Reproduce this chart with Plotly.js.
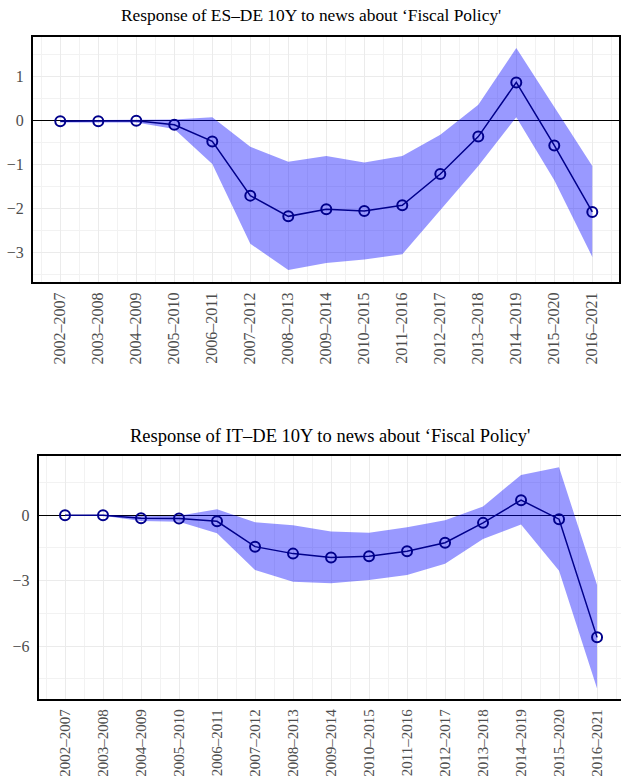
<!DOCTYPE html>
<html>
<head>
<meta charset="utf-8">
<script src="https://cdn.plot.ly/plotly-3.0.1.min.js"></script>
<style>
  html, body { margin: 0; padding: 0; background: #ffffff; }
  #chart { width: 621px; height: 782px; }
</style>
</head>
<body>
<div id="chart"></div>
<script>
// Rolling five-year windows
const periods = ['2002–2007', '2003–2008', '2004–2009', '2005–2010', '2006–2011',
  '2007–2012', '2008–2013', '2009–2014', '2010–2015', '2011–2016',
  '2012–2017', '2013–2018', '2014–2019', '2015–2020', '2016–2021'];

// ES–DE 10Y spread response: point estimate and band
const esEstimate = [-0.02, -0.02, -0.01, -0.10, -0.48, -1.71, -2.18, -2.02, -2.06, -1.93, -1.22, -0.37, 0.86, -0.57, -2.08];
const esUpper    = [0.00, 0.01, 0.01, 0.02, 0.07, -0.60, -0.94, -0.81, -0.96, -0.81, -0.33, 0.35, 1.64, 0.31, -1.04];
const esLower    = [-0.05, -0.05, -0.05, -0.20, -0.99, -2.80, -3.40, -3.24, -3.16, -3.04, -2.04, -1.04, 0.07, -1.36, -3.10];

// IT–DE 10Y spread response: point estimate and band
const itEstimate = [0.00, 0.00, -0.14, -0.15, -0.28, -1.44, -1.76, -1.94, -1.88, -1.65, -1.26, -0.35, 0.69, -0.18, -5.60];
const itUpper    = [0.00, 0.02, -0.05, -0.02, 0.27, -0.32, -0.46, -0.75, -0.80, -0.55, -0.23, 0.40, 1.85, 2.20, -3.20];
const itLower    = [0.00, -0.02, -0.26, -0.30, -0.83, -2.51, -3.05, -3.12, -2.97, -2.74, -2.23, -1.09, -0.43, -2.54, -7.94];

const titles = ['Response of ES–DE 10Y to news about ‘Fiscal Policy\'',
                'Response of IT–DE 10Y to news about ‘Fiscal Policy\''];

const idx = periods.map((_, i) => i);
const W = 621, H = 782;
const px = v => v / W;
const py = v => 1 - v / H;

const bandColor = 'rgba(0,0,255,0.4)';
const lineColor = '#00008b';
const serif = '"Liberation Serif", "Times New Roman", serif';

function panel(est, up, lo, xa, ya) {
  return [
    { x: idx, y: lo, xaxis: xa, yaxis: ya, type: 'scatter', mode: 'lines',
      line: { width: 0, color: bandColor }, hoverinfo: 'skip', showlegend: false },
    { x: idx, y: up, xaxis: xa, yaxis: ya, type: 'scatter', mode: 'lines',
      fill: 'tonexty', fillcolor: bandColor,
      line: { width: 0, color: bandColor }, hoverinfo: 'skip', showlegend: false },
    { x: idx, y: est, xaxis: xa, yaxis: ya, type: 'scatter', mode: 'lines+markers',
      line: { color: lineColor, width: 1.5 },
      marker: { symbol: 'circle-open', size: 10, color: lineColor, line: { width: 2, color: lineColor } },
      showlegend: false }
  ];
}

const data = [].concat(
  panel(esEstimate, esUpper, esLower, 'x', 'y'),
  panel(itEstimate, itUpper, itLower, 'x2', 'y2')
);

function xAxis(domain, range, anchor, fontSize) {
  return {
    domain: domain, range: range, anchor: anchor,
    tickmode: 'array', tickvals: idx, ticktext: periods, tickangle: -90,
    ticks: '', ticklabelstandoff: 2,
    tickfont: { family: serif, size: fontSize, color: '#4d4d4d' },
    showgrid: true, gridcolor: '#ebebeb', gridwidth: 1,
    minor: { tickmode: 'linear', tick0: -0.5, dtick: 1, showgrid: true, gridcolor: '#f2f2f2', gridwidth: 1 },
    zeroline: false,
    showline: true, linecolor: '#000000', linewidth: 2, mirror: true,
    fixedrange: true
  };
}

function yAxis(domain, range, dtick, anchor, mirror) {
  return {
    domain: domain, range: range, anchor: anchor,
    tickmode: 'linear', tick0: 0, dtick: dtick,
    ticks: '', ticklabelstandoff: 4,
    tickfont: { family: serif, size: 16, color: '#4d4d4d' },
    showgrid: true, gridcolor: '#ebebeb', gridwidth: 1,
    minor: { tickmode: 'linear', tick0: dtick / 2, dtick: dtick, showgrid: true, gridcolor: '#f2f2f2', gridwidth: 1 },
    zeroline: true, zerolinecolor: '#000000', zerolinewidth: 1,
    showline: true, linecolor: '#000000', linewidth: 2, mirror: mirror,
    fixedrange: true
  };
}

const layout = {
  width: W, height: H,
  margin: { l: 0, r: 0, t: 0, b: 0 },
  paper_bgcolor: '#ffffff', plot_bgcolor: '#ffffff',
  showlegend: false,
  xaxis: xAxis([px(33), px(618.7)], [-0.718, 14.695], 'y', 16),
  yaxis: yAxis([py(282), py(37)], [-3.67, 1.89], 1, 'x', true),
  xaxis2: xAxis([px(38.7), 1], [-0.692, 14.63], 'y2', 15),
  yaxis2: yAxis([py(699.3), py(455.7)], [-8.44, 2.73], 3, 'x2', false),
  annotations: [
    { text: titles[0], xref: 'paper', yref: 'paper', x: px(311), y: py(15),
      xanchor: 'center', yanchor: 'middle', showarrow: false,
      font: { family: serif, size: 17.4, color: '#000000' } },
    { text: titles[1], xref: 'paper', yref: 'paper', x: px(330), y: py(436),
      xanchor: 'center', yanchor: 'middle', showarrow: false,
      font: { family: serif, size: 18.5, color: '#000000' } }
  ]
};

Plotly.newPlot('chart', data, layout, { staticPlot: true, displayModeBar: false });
</script>
</body>
</html>
